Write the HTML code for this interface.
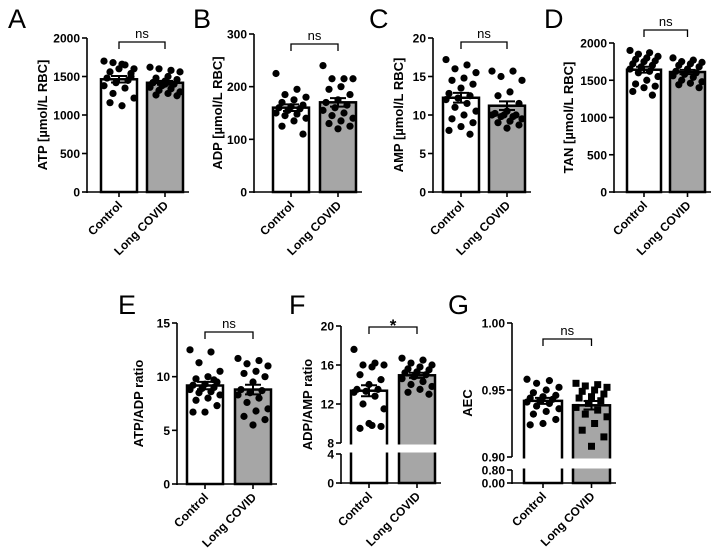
<!DOCTYPE html>
<html><head><meta charset="utf-8"><style>
html,body{margin:0;padding:0;background:#fff;}
svg{display:block;font-family:"Liberation Sans",Arial,sans-serif;}
</style></head><body>
<svg id="fig" width="722" height="558" viewBox="0 0 722 558"></svg>
<script>
const categories = ["Control","Long COVID"];
const atpControl = [1700,1650,1680,1600,1660,1560,1540,1600,1480,1450,1420,1380,1350,1280,1220,1120,1160,1500];
const atpLong = [1620,1580,1600,1560,1500,1480,1460,1440,1420,1400,1380,1360,1340,1320,1300,1280,1260,1250,1400,1420];
const adpControl = [225,195,185,180,175,170,165,162,160,158,155,150,148,145,140,135,125,110];
const adpLong = [240,215,215,215,200,195,185,175,170,165,160,155,150,145,140,135,130,125,120];
const ampControl = [17.2,16.5,16,15.5,14.8,14.5,14,13.5,12.8,12.5,12.2,12,11.5,11,10.5,10,9.5,9,8.5,8,7.5];
const ampLong = [15.7,15.7,15,14.5,13,12.5,11.5,10.5,10.2,10,10,10,9.8,9.8,9.5,9.2,9,8.7,8.3];
const tanControl = [1900,1870,1850,1820,1800,1780,1760,1750,1720,1700,1680,1650,1620,1600,1550,1500,1450,1420,1400,1350,1300];
const tanLong = [1800,1770,1750,1740,1720,1700,1680,1650,1620,1600,1580,1560,1540,1500,1480,1460,1440,1400];
const atpAdpControl = [12.5,12.3,11.3,10.5,10,9.8,9.5,9.3,9.2,9.0,8.9,8.8,8.6,8.5,8.3,8,7.8,7.3,6.7,6.7,9.7];
const atpAdpLong = [11.7,11.5,11.2,11,10.5,10.3,10,9.5,8.8,8.7,8.5,8.3,8,7.6,7,6.8,6.3,6,5.5];
const adpAmpControl = [17.6,16.2,16,16,15.8,15,14.5,14,13.5,13.5,13.3,13.2,12.8,12,11.5,9.8,9.5,9.7,10];
const adpAmpLong = [16.7,16.5,16.2,16,15.8,15.6,15.5,15.3,15.2,15,14.8,14.6,14.3,14,13.8,13.5,13.2,13];
const aecControl = [0.958,0.957,0.955,0.952,0.950,0.948,0.946,0.945,0.944,0.943,0.942,0.941,0.940,0.938,0.936,0.934,0.932,0.928,0.925,0.924];
const aecLong = [0.955,0.954,0.953,0.952,0.950,0.949,0.947,0.945,0.944,0.942,0.940,0.937,0.935,0.932,0.930,0.925,0.920,0.915,0.908];
const ticksA = [0,500,1000,1500,2000];
const ticksB = [0,100,200,300];
const ticksC = [0,5,10,15,20];
const ticksD = [0,500,1000,1500,2000];
const ticksE = [0,5,10,15];
const ticksF = ["0","4","8","12","16","20"];
const ticksG = ["0.00","0.80","0.90","0.95","1.00"];
const sigLabels = ["ns","ns","ns","ns","ns","*","ns"];

const NS="http://www.w3.org/2000/svg";
const svg=document.getElementById('fig');
function mk(tag,attrs,parent){const e=document.createElementNS(NS,tag);for(const k in attrs)e.setAttribute(k,attrs[k]);(parent||svg).appendChild(e);return e;}

const panels=[
 {letter:"A",lx:8,ly:28,ax:87,b:[[0,2000,192,38]],c:[101,137],l:[147,183],title:"ATP [µmol/L RBC]",tx:47,ticks:ticksA,ctl:atpControl,lc:atpLong,sig:0,by:42},
 {letter:"B",lx:193,ly:28,ax:254,b:[[0,300,192,34]],c:[273,309],l:[320,356],title:"ADP [µmol/L RBC]",tx:222,ticks:ticksB,ctl:adpControl,lc:adpLong,sig:1,by:44},
 {letter:"C",lx:369,ly:28,ax:433,b:[[0,20,192,38]],c:[443,479],l:[489,525],title:"AMP [µmol/L RBC]",tx:403,ticks:ticksC,ctl:ampControl,lc:ampLong,sig:2,by:42},
 {letter:"D",lx:544,ly:28,ax:614,b:[[0,2000,192,43]],c:[627,661],l:[670,705],title:"TAN [µmol/L RBC]",tx:573,ticks:ticksD,ctl:tanControl,lc:tanLong,sig:3,by:30},
 {letter:"E",lx:118,ly:314,ax:177,b:[[0,15,484,323]],c:[187,223],l:[235,271],title:"ATP/ADP ratio",tx:143,ticks:ticksE,ctl:atpAdpControl,lc:atpAdpLong,sig:4,by:332},
 {letter:"F",lx:289,ly:314,ax:341,b:[[0,4,483,454],[8,20,443,326]],c:[351,387],l:[399,435],title:"ADP/AMP ratio",tx:312,ticks:ticksF,ctl:adpAmpControl,lc:adpAmpLong,sig:5,by:327},
 {letter:"G",lx:448,ly:314,ax:512,b:[[0,0.8,483,470],[0.9,1.0,457,323]],c:[524,562],l:[573,610],title:"AEC",tx:472,ticks:ticksG,ctl:aecControl,lc:aecLong,sig:6,by:339,square:true}
];
function yScale(p,v){const s=p.b;for(const g of s){if(v>=g[0]-1e-9&&v<=g[1]+1e-9)return g[2]+(v-g[0])/(g[1]-g[0])*(g[3]-g[2]);}
 const g=s[s.length-1];return g[2]+(v-g[0])/(g[1]-g[0])*(g[3]-g[2]);}
function mean(a){return a.reduce((x,y)=>x+y,0)/a.length;}
function sem(a){const m=mean(a);return Math.sqrt(a.reduce((x,y)=>x+(y-m)*(y-m),0)/(a.length-1))/Math.sqrt(a.length);}

panels.forEach((p,pi)=>{
 const g=mk('g',{});
 
 
 const t=mk('text',{x:p.lx,y:p.ly,'font-size':27,fill:'#000'},g);t.textContent=p.letter;
 
 const zeroY=p.b[0][2];
 const groups=[[p.c,p.ctl,'#ffffff','control'],[p.l,p.lc,'#a6a6a6','long-covid']];
 groups.forEach(([xr,vals,fill,nm])=>{
  const m=mean(vals),ym=yScale(p,m);
  const r=mk('rect',{x:xr[0],y:ym,width:xr[1]-xr[0],height:zeroY-ym,fill:fill,stroke:'#000','stroke-width':2.5},g);
  
  const cx=(xr[0]+xr[1])/2,w=xr[1]-xr[0];
  vals.forEach((v,i)=>{
   const off=((i*7)%11-5)/5*(w/2-3);
   const y=yScale(p,v);
   let d;
   if(p.square&&nm==='long-covid'){d=mk('rect',{x:cx+off-3.5,y:y-3.5,width:7,height:7,fill:'#000'},g);}
   else d=mk('circle',{cx:cx+off,cy:y,r:3.6,fill:'#000'},g);
   
  });
  const s=sem(vals),y1=yScale(p,m+s),y2=yScale(p,m-s);
  const eb=mk('path',{d:`M${cx},${y1}V${y2}M${cx-8},${y1}H${cx+8}M${cx-8},${y2}H${cx+8}`,stroke:'#000','stroke-width':2,fill:'none'},g);
  
 });
 if(p.b.length>1){
  const top=p.b[1][2],bot=p.b[0][3];
  const band=mk('rect',{x:p.ax+2,y:top+1.5,width:p.l[1]-p.ax+5,height:bot-top-3,fill:'#fff'},g);
  
 }
 p.b.forEach(sg=>{
  const a=mk('line',{x1:p.ax,x2:p.ax,y1:sg[2]+(sg===p.b[0]?1:0),y2:sg[3],stroke:'#000','stroke-width':1.6},g);
  
 });
 const xa=mk('line',{x1:p.ax,x2:p.l[1]+6,y1:zeroY,y2:zeroY,stroke:'#000','stroke-width':1.6},g);
 
 p.ticks.forEach(tk=>{
  const y=yScale(p,parseFloat(tk));
  mk('line',{x1:p.ax-5,x2:p.ax,y1:y,y2:y,stroke:'#000','stroke-width':1.6},g);
  const tl=mk('text',{x:p.ax-7,y:y+4.5,'font-size':12,'font-weight':'bold','text-anchor':'end'},g);
  tl.textContent=tk;
 });
 const midY=(p.b[0][2]+p.b[p.b.length-1][3])/2;
 const yt=mk('text',{x:p.tx,y:midY,'font-size':13,'font-weight':'bold','text-anchor':'middle',transform:`rotate(-90 ${p.tx} ${midY})`},g);
 yt.textContent=p.title;
 [p.c,p.l].forEach((xr,i)=>{
  const cx=(xr[0]+xr[1])/2;
  mk('line',{x1:cx,x2:cx,y1:zeroY,y2:zeroY+5,stroke:'#000','stroke-width':1.6},g);
  const xl=mk('text',{x:cx+4,y:zeroY+14,'font-size':12,'font-weight':'bold','text-anchor':'end',transform:`rotate(-45 ${cx+4} ${zeroY+14})`},g);
  xl.textContent=categories[i];
 });
 const c1=(p.c[0]+p.c[1])/2,c2=(p.l[0]+p.l[1])/2;
 const br=mk('path',{d:`M${c1},${p.by+7}V${p.by}H${c2}V${p.by+7}`,stroke:'#000','stroke-width':1.3,fill:'none'},g);
 
 const star=sigLabels[p.sig]==='*';
 const sl=mk('text',{x:(c1+c2)/2,y:star?p.by+4:p.by-4,'font-size':star?17:13,'font-weight':star?'bold':'normal','text-anchor':'middle'},g);
 sl.textContent=sigLabels[p.sig];
});
</script>
</body></html>
